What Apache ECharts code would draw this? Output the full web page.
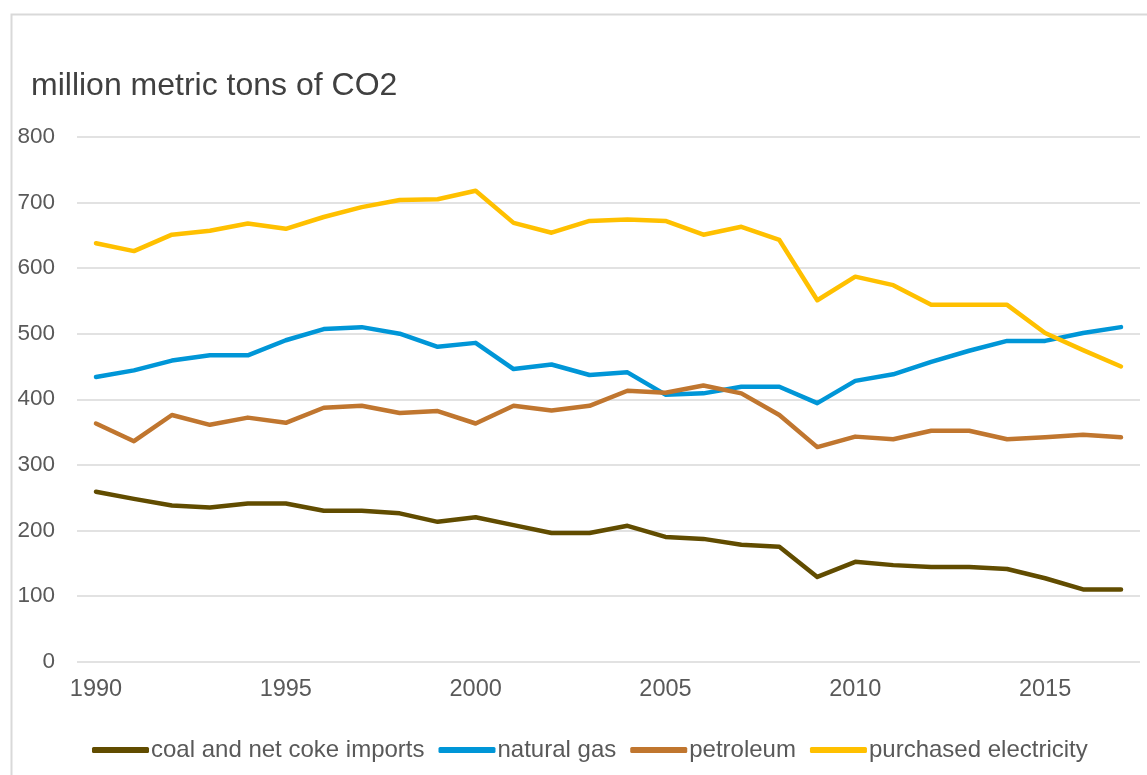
<!DOCTYPE html>
<html>
<head>
<meta charset="utf-8">
<title>CO2 emissions by energy source</title>
<script src="https://cdn.jsdelivr.net/npm/echarts@6/dist/echarts.min.js"></script>
<style>
  html, body { margin: 0; padding: 0; background: #ffffff; }
  #chart { width: 1147px; height: 775px; }
</style>
</head>
<body>
<div id="chart"></div>
<script>
// Years on the category axis
const years = [
  '1990','1991','1992','1993','1994','1995','1996','1997','1998','1999',
  '2000','2001','2002','2003','2004','2005','2006','2007','2008','2009',
  '2010','2011','2012','2013','2014','2015','2016','2017'
];

// Emissions, million metric tons of CO2
const coal = [259, 248, 238, 235, 241, 241, 230, 230, 226, 213,
              220, 208, 196, 196, 207, 190, 187, 178, 175, 129,
              152, 147, 144, 144, 141, 127, 110, 110];
const naturalGas = [434, 444, 459, 467, 467, 490, 507, 510, 500, 480,
                    486, 446, 453, 437, 441, 407, 409, 419, 419, 394,
                    428, 438, 457, 474, 489, 489, 501, 510];
const petroleum = [363, 336, 376, 361, 372, 364, 387, 390, 379, 382,
                   363, 390, 383, 390, 413, 410, 421, 409, 376, 327,
                   343, 339, 352, 352, 339, 342, 346, 342];
const electricity = [638, 626, 651, 657, 668, 660, 678, 693, 704, 705,
                     718, 669, 654, 672, 674, 672, 651, 663, 643, 551,
                     587, 574, 544, 544, 544, 501, 475, 450];

const seriesNames = ['coal and net coke imports', 'natural gas', 'petroleum', 'purchased electricity'];
const seriesColors = ['#614c00', '#0096d7', '#c0762f', '#ffc000'];
const seriesData = [coal, naturalGas, petroleum, electricity];

const yTicks = { min: 0, max: 800, interval: 100 };

const FONT = '"Liberation Sans", Arial, sans-serif';

const chart = echarts.init(document.getElementById('chart'), null, { renderer: 'canvas' });

chart.setOption({
  animation: false,
  backgroundColor: '#ffffff',
  graphic: [
    {
      type: 'rect',
      silent: true,
      shape: { x: 11.5, y: 14.5, width: 1200, height: 800 },
      style: { fill: 'none', stroke: '#d9d9d9', lineWidth: 2 }
    }
  ],
  title: {
    text: 'million metric tons of CO2',
    left: 31,
    top: 70,
    padding: 0,
    textStyle: { fontFamily: FONT, fontSize: 32, fontWeight: 'normal', color: '#404040' }
  },
  grid: { left: 77, right: 7, top: 137, bottom: 113.5, containLabel: false },
  xAxis: {
    type: 'category',
    data: years,
    boundaryGap: true,
    axisLine: { show: false },
    axisTick: { show: false },
    axisLabel: {
      interval: 4,
      margin: 16,
      fontFamily: FONT,
      fontSize: 23.5,
      color: '#595959'
    }
  },
  yAxis: {
    type: 'value',
    min: yTicks.min,
    max: yTicks.max,
    interval: yTicks.interval,
    axisLine: { show: false },
    axisTick: { show: false },
    splitLine: { lineStyle: { color: '#d9d9d9', width: 1.5 } },
    axisLabel: {
      margin: 22,
      fontFamily: FONT,
      fontSize: 22.5,
      color: '#595959'
    }
  },
  legend: {
    left: 87,
    top: 733,
    itemGap: 14,
    itemWidth: 57,
    itemHeight: 6,
    icon: 'roundRect',
    textStyle: { fontFamily: FONT, fontSize: 24, color: '#595959', padding: [0, 0, 0, -3] },
    data: seriesNames
  },
  series: seriesNames.map((name, i) => ({
    name: name,
    type: 'line',
    data: seriesData[i],
    symbol: 'none',
    smooth: false,
    lineStyle: { color: seriesColors[i], width: 4.5, join: 'round', cap: 'round' },
    itemStyle: { color: seriesColors[i] },
    emphasis: { disabled: true }
  }))
});
</script>
</body>
</html>
